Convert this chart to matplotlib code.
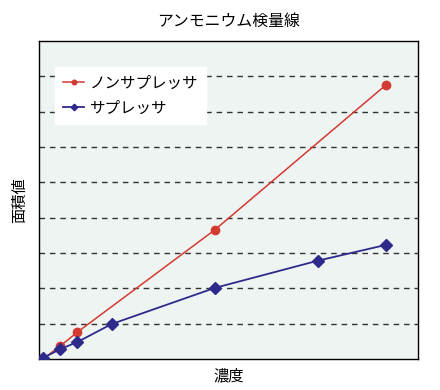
import matplotlib
matplotlib.use("Agg")
import matplotlib.pyplot as plt

plt.rcParams['font.family'] = ['Noto Sans CJK JP', 'DejaVu Sans']

title = "アンモニウム検量線"
xlabel = "濃度"
ylabel = "面積値"

x_non = [0, 0.5, 1, 5, 10]
y_non = [0, 0.37, 0.76, 3.65, 7.76]
label_non = "ノンサプレッサ"

x_sup = [0, 0.5, 1, 2, 5, 8, 10]
y_sup = [0.03, 0.28, 0.48, 0.99, 2.01, 2.78, 3.23]
label_sup = "サプレッサ"

fig = plt.figure(figsize=(4.4, 3.9), dpi=100)
ax = fig.add_axes([0.0886, 0.0795, 0.8614, 0.8154])
ax.set_facecolor('#eef4f1')

ax.plot(x_non, y_non, color='#d23a32', lw=1.1, marker='o', ms=6, label=label_non, zorder=3)
ax.plot(x_sup, y_sup, color='#2e2a8c', lw=1.3, marker='D', ms=6, label=label_sup, zorder=4)

ax.set_xlim(-0.12, 10.93)
ax.set_ylim(0, 9)
ax.set_yticks(range(1, 9))
ax.set_xticks([])
ax.yaxis.grid(True, linestyle=(0, (4, 3.5)), color='#333333', lw=1.0)
ax.tick_params(axis='y', length=0, labelleft=False)
for s in ax.spines.values():
    s.set_color('black')
    s.set_linewidth(1.0)

ax.set_title(title, fontsize=11.4, pad=11)
ax.set_xlabel(xlabel, fontsize=11, labelpad=6)
ax.set_ylabel(ylabel, fontsize=11, labelpad=8)

leg = ax.legend(loc='upper left', bbox_to_anchor=(0.042, 0.918), borderaxespad=0,
                frameon=True, fancybox=False,
                fontsize=11.2, handlelength=1.4, markerscale=0.55, borderpad=0.5,
                labelspacing=0.5, handletextpad=0.35)
leg.get_frame().set_facecolor('white')
leg.get_frame().set_edgecolor('white')
leg.get_frame().set_alpha(1)

fig.savefig('out.png', dpi=100, facecolor='white')
